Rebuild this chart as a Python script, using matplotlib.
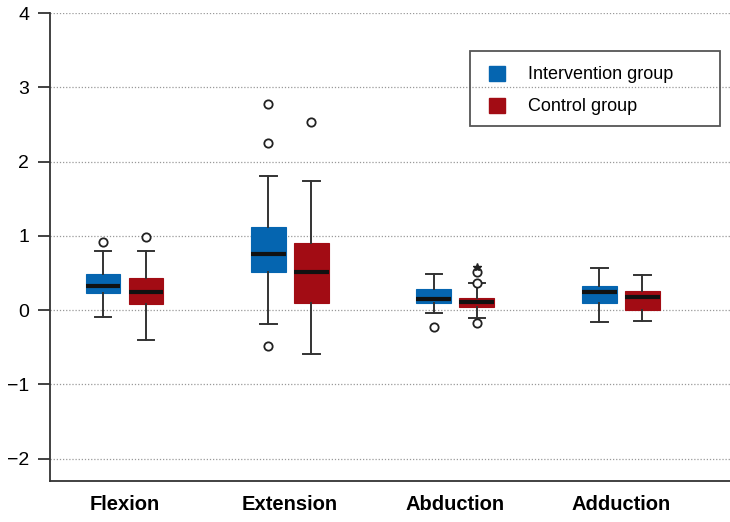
import numpy as np
import matplotlib.pyplot as plt
from matplotlib.patches import Patch, Rectangle

plt.rcParams['font.family'] = ['Liberation Sans', 'DejaVu Sans']

categories = ["Flexion", "Extension", "Abduction", "Adduction"]
groups = ["Intervention group", "Control group"]
colors = ["#0565b0", "#a20c14"]

# box statistics: [intervention, control] per category
q1 = [[0.23, 0.51, 0.09, 0.10], [0.08, 0.10, 0.045, 0.0]]
med = [[0.32, 0.76, 0.15, 0.24], [0.25, 0.51, 0.11, 0.175]]
q3 = [[0.485, 1.12, 0.28, 0.32], [0.435, 0.91, 0.17, 0.26]]
whislo = [[-0.09, -0.18, -0.04, -0.16], [-0.395, -0.59, -0.11, -0.14]]
whishi = [[0.79, 1.81, 0.49, 0.57], [0.795, 1.74, 0.36, 0.47]]
fliers = [[[0.92], [2.78, 2.25, -0.48], [-0.22], []],
          [[0.98], [2.54], [0.37, 0.51, -0.17], []]]
extremes = [[[], [], [], []], [[], [], [0.58], []]]

fig = plt.figure(figsize=(7.3, 5.22), dpi=100)
ax = fig.add_axes([0.0685, 0.0785, 0.9315, 0.8965])

x = np.arange(1, len(categories) + 1)
offset = 0.13
for g in range(2):
    stats = []
    for i in range(len(categories)):
        stats.append(dict(med=med[g][i], q1=q1[g][i], q3=q3[g][i],
                          whislo=whislo[g][i], whishi=whishi[g][i],
                          fliers=fliers[g][i]))
    pos = x + (offset if g else -offset)
    ax.bxp(stats, positions=pos, widths=0.21, patch_artist=True,
           showfliers=True,
           boxprops=dict(facecolor=colors[g], edgecolor=colors[g], linewidth=0.8),
           medianprops=dict(color="#111111", linewidth=3),
           whiskerprops=dict(color="#333333", linewidth=1.4),
           capprops=dict(color="#333333", linewidth=1.4),
           capwidths=0.1,
           flierprops=dict(marker="o", markerfacecolor="white",
                           markeredgecolor="#222222", markersize=6,
                           markeredgewidth=1.3))
    for i in range(len(categories)):
        if extremes[g][i]:
            ax.plot([pos[i]] * len(extremes[g][i]), extremes[g][i], marker="*",
                    linestyle="none", color="#222222", markersize=6)

ax.set_xlim(0.55, 4.66)
ax.set_ylim(-2.3, 4.0)
ax.set_yticks(range(-2, 5))
ax.set_yticklabels([str(v).replace("-", "\u2212") for v in range(-2, 5)])
ax.set_xticks(x)
ax.set_xticklabels(categories, fontweight="bold", fontsize=14.5)
ax.tick_params(axis="x", length=0, pad=10)
ax.tick_params(axis="y", labelsize=14, length=9, width=1.3, pad=6, color="#333333")
ax.yaxis.grid(True, linestyle=(0, (1, 1.5)), color="#999999", linewidth=0.9)
ax.set_axisbelow(True)
for s in ["top", "right"]:
    ax.spines[s].set_visible(False)
for s in ["left", "bottom"]:
    ax.spines[s].set_color("#333333")
    ax.spines[s].set_linewidth(1.3)

# legend entries without frame, plus a wider box drawn around them
handles = [Patch(facecolor=c, edgecolor=c) for c in colors]
fig.legend(handles, groups, loc="upper left", bbox_to_anchor=(0.670, 0.874),
           fontsize=13, frameon=False, handlelength=0.9, handleheight=0.9,
           handletextpad=1.25, borderpad=0, labelspacing=0.78, borderaxespad=0)
fig.patches.append(Rectangle((0.6438, 0.7586), 0.3425, 0.1437,
                             transform=fig.transFigure, fill=False,
                             edgecolor="#555555", linewidth=1.3))

fig.savefig("out.png", dpi=100)
